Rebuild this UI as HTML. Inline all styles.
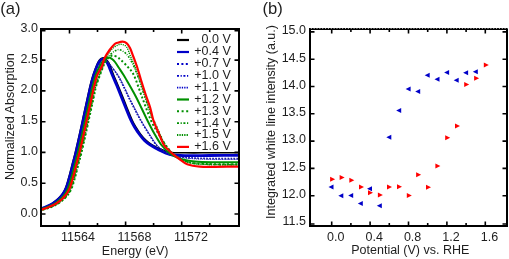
<!DOCTYPE html>
<html><head><meta charset="utf-8"><style>
html,body{margin:0;padding:0;background:#fff;width:509px;height:259px;overflow:hidden}
svg{display:block} #w{will-change:transform}
</style></head><body>
<div id="w"><svg width="509" height="259" viewBox="0 0 509 259"><rect width="509" height="259" fill="#fff"/><g clip-path="url(#clipL)"><path d="M36.30,209.80 C36.97,209.60 38.97,209.02 40.30,208.60 C41.63,208.18 42.80,207.88 44.30,207.30 C45.80,206.72 47.80,205.87 49.30,205.10 C50.80,204.33 51.82,203.77 53.30,202.70 C54.78,201.63 56.87,199.93 58.20,198.70 C59.53,197.47 60.33,196.53 61.30,195.30 C62.27,194.07 63.20,192.75 64.00,191.30 C64.80,189.85 65.42,188.48 66.10,186.60 C66.78,184.72 67.47,182.18 68.10,180.00 C68.73,177.82 69.20,176.17 69.90,173.50 C70.60,170.83 71.48,167.17 72.30,164.00 C73.12,160.83 74.05,157.50 74.80,154.50 C75.55,151.50 76.05,149.25 76.80,146.00 C77.55,142.75 78.52,138.50 79.30,135.00 C80.08,131.50 80.67,128.83 81.50,125.00 C82.33,121.17 83.28,116.67 84.30,112.00 C85.32,107.33 86.60,101.50 87.60,97.00 C88.60,92.50 89.38,88.67 90.30,85.00 C91.22,81.33 92.02,78.33 93.10,75.00 C94.18,71.67 95.73,67.50 96.80,65.00 C97.87,62.50 98.58,61.17 99.50,60.00 C100.42,58.83 101.33,58.23 102.30,58.00 C103.27,57.77 104.20,57.73 105.30,58.60 C106.40,59.47 107.52,60.47 108.90,63.20 C110.28,65.93 112.07,71.28 113.60,75.00 C115.13,78.72 116.60,81.92 118.10,85.50 C119.60,89.08 121.10,92.75 122.60,96.50 C124.10,100.25 125.52,104.08 127.10,108.00 C128.68,111.92 130.65,116.83 132.10,120.00 C133.55,123.17 134.35,124.58 135.80,127.00 C137.25,129.42 139.13,132.30 140.80,134.50 C142.47,136.70 144.10,138.58 145.80,140.20 C147.50,141.82 148.63,142.73 151.00,144.20 C153.37,145.67 156.90,147.67 160.00,149.00 C163.10,150.33 165.43,151.57 169.60,152.20 C173.77,152.83 178.27,152.70 185.00,152.80 C191.73,152.90 200.50,152.82 210.00,152.80 C219.50,152.78 236.67,152.72 242.00,152.70" fill="none" stroke="#000000" stroke-width="1.6" stroke-linejoin="round"/><path d="M37.00,209.80 C37.67,209.60 39.67,209.02 41.00,208.60 C42.33,208.18 43.50,207.88 45.00,207.30 C46.50,206.72 48.50,205.87 50.00,205.10 C51.50,204.33 52.52,203.77 54.00,202.70 C55.48,201.63 57.57,199.93 58.90,198.70 C60.23,197.47 61.03,196.53 62.00,195.30 C62.97,194.07 63.90,192.75 64.70,191.30 C65.50,189.85 66.12,188.48 66.80,186.60 C67.48,184.72 68.17,182.18 68.80,180.00 C69.43,177.82 69.90,176.17 70.60,173.50 C71.30,170.83 72.18,167.17 73.00,164.00 C73.82,160.83 74.75,157.50 75.50,154.50 C76.25,151.50 76.75,149.25 77.50,146.00 C78.25,142.75 79.22,138.50 80.00,135.00 C80.78,131.50 81.37,128.83 82.20,125.00 C83.03,121.17 83.98,116.67 85.00,112.00 C86.02,107.33 87.30,101.50 88.30,97.00 C89.30,92.50 90.08,88.67 91.00,85.00 C91.92,81.33 92.72,78.33 93.80,75.00 C94.88,71.67 96.47,67.37 97.50,65.00 C98.53,62.63 99.18,61.77 100.00,60.80 C100.82,59.83 101.60,59.37 102.40,59.20 C103.20,59.03 103.90,59.00 104.80,59.80 C105.70,60.60 106.55,61.47 107.80,64.00 C109.05,66.53 110.80,71.42 112.30,75.00 C113.80,78.58 115.32,81.92 116.80,85.50 C118.28,89.08 119.70,92.75 121.20,96.50 C122.70,100.25 124.20,104.08 125.80,108.00 C127.40,111.92 129.35,116.83 130.80,120.00 C132.25,123.17 133.05,124.58 134.50,127.00 C135.95,129.42 137.83,132.25 139.50,134.50 C141.17,136.75 142.75,138.78 144.50,140.50 C146.25,142.22 147.42,143.13 150.00,144.80 C152.58,146.47 156.73,148.92 160.00,150.50 C163.27,152.08 165.43,153.45 169.60,154.30 C173.77,155.15 178.27,155.40 185.00,155.60 C191.73,155.80 200.50,155.55 210.00,155.50 C219.50,155.45 236.67,155.33 242.00,155.30" fill="none" stroke="#0000c8" stroke-width="2.8" stroke-linejoin="round"/><path d="M38.00,209.80 C38.67,209.60 40.67,209.02 42.00,208.60 C43.33,208.18 44.50,207.88 46.00,207.30 C47.50,206.72 49.50,205.87 51.00,205.10 C52.50,204.33 53.52,203.77 55.00,202.70 C56.48,201.63 58.57,199.93 59.90,198.70 C61.23,197.47 62.03,196.53 63.00,195.30 C63.97,194.07 64.90,192.75 65.70,191.30 C66.50,189.85 67.12,188.48 67.80,186.60 C68.48,184.72 69.17,182.18 69.80,180.00 C70.43,177.82 70.90,176.17 71.60,173.50 C72.30,170.83 73.18,167.17 74.00,164.00 C74.82,160.83 75.75,157.50 76.50,154.50 C77.25,151.50 77.75,149.25 78.50,146.00 C79.25,142.75 80.22,138.50 81.00,135.00 C81.78,131.50 82.37,128.83 83.20,125.00 C84.03,121.17 84.98,116.67 86.00,112.00 C87.02,107.33 88.30,101.50 89.30,97.00 C90.30,92.50 91.08,88.67 92.00,85.00 C92.92,81.33 93.72,78.33 94.80,75.00 C95.88,71.67 97.37,67.33 98.50,65.00 C99.63,62.67 100.63,61.87 101.60,61.00 C102.57,60.13 103.40,59.80 104.30,59.80 C105.20,59.80 106.00,60.05 107.00,61.00 C108.00,61.95 108.57,63.17 110.30,65.50 C112.03,67.83 115.25,71.58 117.40,75.00 C119.55,78.42 121.33,82.25 123.20,86.00 C125.07,89.75 126.80,93.83 128.60,97.50 C130.40,101.17 132.05,104.25 134.00,108.00 C135.95,111.75 137.93,115.83 140.30,120.00 C142.67,124.17 145.53,128.83 148.20,133.00 C150.87,137.17 153.50,141.92 156.30,145.00 C159.10,148.08 161.88,149.70 165.00,151.50 C168.12,153.30 169.17,154.68 175.00,155.80 C180.83,156.92 188.83,157.75 200.00,158.20 C211.17,158.65 235.00,158.45 242.00,158.50" fill="none" stroke="#0000c8" stroke-width="1.5" stroke-dasharray="1.5 1.5" stroke-linejoin="round"/><path d="M38.30,209.80 C38.97,209.60 40.97,209.02 42.30,208.60 C43.63,208.18 44.80,207.88 46.30,207.30 C47.80,206.72 49.80,205.87 51.30,205.10 C52.80,204.33 53.82,203.77 55.30,202.70 C56.78,201.63 58.87,199.93 60.20,198.70 C61.53,197.47 62.33,196.53 63.30,195.30 C64.27,194.07 65.20,192.75 66.00,191.30 C66.80,189.85 67.42,188.48 68.10,186.60 C68.78,184.72 69.47,182.18 70.10,180.00 C70.73,177.82 71.20,176.17 71.90,173.50 C72.60,170.83 73.48,167.17 74.30,164.00 C75.12,160.83 76.05,157.50 76.80,154.50 C77.55,151.50 78.05,149.25 78.80,146.00 C79.55,142.75 80.52,138.50 81.30,135.00 C82.08,131.50 82.67,128.83 83.50,125.00 C84.33,121.17 85.28,116.67 86.30,112.00 C87.32,107.33 88.60,101.50 89.60,97.00 C90.60,92.50 91.38,88.67 92.30,85.00 C93.22,81.33 93.98,78.28 95.10,75.00 C96.22,71.72 97.83,67.58 99.00,65.30 C100.17,63.02 101.13,62.17 102.10,61.30 C103.07,60.43 103.90,60.10 104.80,60.10 C105.70,60.10 106.50,60.35 107.50,61.30 C108.50,62.25 109.07,63.47 110.80,65.80 C112.53,68.13 115.75,71.88 117.90,75.30 C120.05,78.72 121.83,82.55 123.70,86.30 C125.57,90.05 127.30,94.13 129.10,97.80 C130.90,101.47 132.55,104.55 134.50,108.30 C136.45,112.05 138.43,116.13 140.80,120.30 C143.17,124.47 146.03,129.13 148.70,133.30 C151.37,137.47 154.08,142.20 156.80,145.30 C159.52,148.40 161.97,150.08 165.00,151.90 C168.03,153.72 169.17,155.08 175.00,156.20 C180.83,157.32 188.83,158.15 200.00,158.60 C211.17,159.05 235.00,158.85 242.00,158.90" fill="none" stroke="#3a3a70" stroke-width="1.2" stroke-dasharray="1.2 1.8" stroke-linejoin="round"/><path d="M38.60,209.80 C39.27,209.60 41.27,209.02 42.60,208.60 C43.93,208.18 45.10,207.88 46.60,207.30 C48.10,206.72 50.10,205.87 51.60,205.10 C53.10,204.33 54.12,203.77 55.60,202.70 C57.08,201.63 59.17,199.93 60.50,198.70 C61.83,197.47 62.63,196.53 63.60,195.30 C64.57,194.07 65.50,192.75 66.30,191.30 C67.10,189.85 67.72,188.48 68.40,186.60 C69.08,184.72 69.77,182.18 70.40,180.00 C71.03,177.82 71.50,176.17 72.20,173.50 C72.90,170.83 73.78,167.17 74.60,164.00 C75.42,160.83 76.35,157.50 77.10,154.50 C77.85,151.50 78.35,149.25 79.10,146.00 C79.85,142.75 80.82,138.50 81.60,135.00 C82.38,131.50 82.97,128.83 83.80,125.00 C84.63,121.17 85.58,116.67 86.60,112.00 C87.62,107.33 88.90,101.50 89.90,97.00 C90.90,92.50 91.68,88.67 92.60,85.00 C93.52,81.33 94.25,78.23 95.40,75.00 C96.55,71.77 98.30,67.83 99.50,65.60 C100.70,63.37 101.63,62.47 102.60,61.60 C103.57,60.73 104.40,60.40 105.30,60.40 C106.20,60.40 107.00,60.65 108.00,61.60 C109.00,62.55 109.57,63.77 111.30,66.10 C113.03,68.43 116.25,72.18 118.40,75.60 C120.55,79.02 122.33,82.85 124.20,86.60 C126.07,90.35 127.80,94.43 129.60,98.10 C131.40,101.77 133.05,104.85 135.00,108.60 C136.95,112.35 138.93,116.43 141.30,120.60 C143.67,124.77 146.53,129.43 149.20,133.60 C151.87,137.77 154.67,142.47 157.30,145.60 C159.93,148.73 162.05,150.55 165.00,152.40 C167.95,154.25 169.17,155.58 175.00,156.70 C180.83,157.82 188.83,158.65 200.00,159.10 C211.17,159.55 235.00,159.35 242.00,159.40" fill="none" stroke="#0000c8" stroke-width="1.0" stroke-dasharray="1.0 1.0" stroke-linejoin="round"/><path d="M39.00,209.80 C39.67,209.60 41.67,209.02 43.00,208.60 C44.33,208.18 45.50,207.88 47.00,207.30 C48.50,206.72 50.50,205.87 52.00,205.10 C53.50,204.33 54.52,203.77 56.00,202.70 C57.48,201.63 59.57,199.93 60.90,198.70 C62.23,197.47 63.03,196.53 64.00,195.30 C64.97,194.07 65.90,192.75 66.70,191.30 C67.50,189.85 68.12,188.48 68.80,186.60 C69.48,184.72 70.17,182.18 70.80,180.00 C71.43,177.82 71.90,176.17 72.60,173.50 C73.30,170.83 74.18,167.17 75.00,164.00 C75.82,160.83 76.75,157.50 77.50,154.50 C78.25,151.50 78.75,149.25 79.50,146.00 C80.25,142.75 81.22,138.50 82.00,135.00 C82.78,131.50 83.37,128.83 84.20,125.00 C85.03,121.17 85.98,116.67 87.00,112.00 C88.02,107.33 89.30,101.50 90.30,97.00 C91.30,92.50 92.08,88.67 93.00,85.00 C93.92,81.33 94.55,78.33 95.80,75.00 C97.05,71.67 99.05,67.58 100.50,65.00 C101.95,62.42 103.12,60.73 104.50,59.50 C105.88,58.27 107.55,57.68 108.80,57.60 C110.05,57.52 110.97,58.27 112.00,59.00 C113.03,59.73 113.83,60.50 115.00,62.00 C116.17,63.50 117.57,65.83 119.00,68.00 C120.43,70.17 122.30,72.92 123.60,75.00 C124.90,77.08 124.68,76.75 126.80,80.50 C128.92,84.25 132.90,90.92 136.30,97.50 C139.70,104.08 144.25,114.08 147.20,120.00 C150.15,125.92 151.63,128.83 154.00,133.00 C156.37,137.17 158.73,141.58 161.40,145.00 C164.07,148.42 166.98,151.23 170.00,153.50 C173.02,155.77 175.33,157.28 179.50,158.60 C183.67,159.92 189.08,160.80 195.00,161.40 C200.92,162.00 207.17,162.05 215.00,162.20 C222.83,162.35 237.50,162.28 242.00,162.30" fill="none" stroke="#009000" stroke-width="2.0" stroke-linejoin="round"/><path d="M42.50,209.80 C43.17,209.60 45.17,209.02 46.50,208.60 C47.83,208.18 49.00,207.88 50.50,207.30 C52.00,206.72 54.00,205.87 55.50,205.10 C57.00,204.33 58.02,203.77 59.50,202.70 C60.98,201.63 63.07,199.93 64.40,198.70 C65.73,197.47 66.53,196.53 67.50,195.30 C68.47,194.07 69.40,192.75 70.20,191.30 C71.00,189.85 71.62,188.48 72.30,186.60 C72.98,184.72 73.67,182.18 74.30,180.00 C74.93,177.82 75.40,176.17 76.10,173.50 C76.80,170.83 77.68,167.17 78.50,164.00 C79.32,160.83 80.25,157.50 81.00,154.50 C81.75,151.50 82.25,149.25 83.00,146.00 C83.75,142.75 84.72,138.50 85.50,135.00 C86.28,131.50 86.87,128.83 87.70,125.00 C88.53,121.17 89.48,116.67 90.50,112.00 C91.52,107.33 92.80,101.50 93.80,97.00 C94.80,92.50 94.97,90.00 96.50,85.00 C98.03,80.00 101.42,71.00 103.00,67.00 C104.58,63.00 105.00,62.63 106.00,61.00 C107.00,59.37 107.95,58.10 109.00,57.20 C110.05,56.30 111.05,55.68 112.30,55.60 C113.55,55.52 115.05,55.97 116.50,56.70 C117.95,57.43 119.08,58.25 121.00,60.00 C122.92,61.75 125.83,64.62 128.00,67.20 C130.17,69.78 131.63,70.45 134.00,75.50 C136.37,80.55 139.40,90.08 142.20,97.50 C145.00,104.92 148.17,114.08 150.80,120.00 C153.43,125.92 155.55,128.83 158.00,133.00 C160.45,137.17 162.67,141.28 165.50,145.00 C168.33,148.72 170.92,152.42 175.00,155.30 C179.08,158.18 184.17,160.83 190.00,162.30 C195.83,163.77 201.33,163.77 210.00,164.10 C218.67,164.43 236.67,164.27 242.00,164.30" fill="none" stroke="#009000" stroke-width="2.0" stroke-dasharray="2.0 2.2" stroke-linejoin="round"/><path d="M42.00,209.80 C42.67,209.60 44.67,209.02 46.00,208.60 C47.33,208.18 48.50,207.88 50.00,207.30 C51.50,206.72 53.50,205.87 55.00,205.10 C56.50,204.33 57.52,203.77 59.00,202.70 C60.48,201.63 62.57,199.93 63.90,198.70 C65.23,197.47 66.03,196.53 67.00,195.30 C67.97,194.07 68.90,192.75 69.70,191.30 C70.50,189.85 71.12,188.48 71.80,186.60 C72.48,184.72 73.17,182.18 73.80,180.00 C74.43,177.82 74.90,176.17 75.60,173.50 C76.30,170.83 77.18,167.17 78.00,164.00 C78.82,160.83 79.75,157.50 80.50,154.50 C81.25,151.50 81.75,149.25 82.50,146.00 C83.25,142.75 84.22,138.50 85.00,135.00 C85.78,131.50 86.37,128.83 87.20,125.00 C88.03,121.17 88.98,116.67 90.00,112.00 C91.02,107.33 92.30,101.50 93.30,97.00 C94.30,92.50 94.38,90.17 96.00,85.00 C97.62,79.83 101.17,70.50 103.00,66.00 C104.83,61.50 105.58,60.08 107.00,58.00 C108.42,55.92 110.08,54.73 111.50,53.50 C112.92,52.27 114.18,51.25 115.50,50.60 C116.82,49.95 117.93,49.33 119.40,49.60 C120.87,49.87 122.83,51.10 124.30,52.20 C125.77,53.30 126.75,54.15 128.20,56.20 C129.65,58.25 131.32,60.93 133.00,64.50 C134.68,68.07 136.38,72.35 138.30,77.60 C140.22,82.85 142.38,89.77 144.50,96.00 C146.62,102.23 149.32,110.67 151.00,115.00 C152.68,119.33 153.18,119.00 154.60,122.00 C156.02,125.00 157.68,129.17 159.50,133.00 C161.32,136.83 162.92,141.23 165.50,145.00 C168.08,148.77 170.92,152.67 175.00,155.60 C179.08,158.53 184.17,161.13 190.00,162.60 C195.83,164.07 201.33,164.07 210.00,164.40 C218.67,164.73 236.67,164.57 242.00,164.60" fill="none" stroke="#009000" stroke-width="1.6" stroke-dasharray="1.8 1.4 0.8 1.4" stroke-linejoin="round"/><path d="M41.60,209.80 C42.27,209.60 44.27,209.02 45.60,208.60 C46.93,208.18 48.10,207.88 49.60,207.30 C51.10,206.72 53.10,205.87 54.60,205.10 C56.10,204.33 57.12,203.77 58.60,202.70 C60.08,201.63 62.17,199.93 63.50,198.70 C64.83,197.47 65.63,196.53 66.60,195.30 C67.57,194.07 68.50,192.75 69.30,191.30 C70.10,189.85 70.72,188.48 71.40,186.60 C72.08,184.72 72.77,182.18 73.40,180.00 C74.03,177.82 74.50,176.17 75.20,173.50 C75.90,170.83 76.78,167.17 77.60,164.00 C78.42,160.83 79.35,157.50 80.10,154.50 C80.85,151.50 81.35,149.25 82.10,146.00 C82.85,142.75 83.82,138.50 84.60,135.00 C85.38,131.50 85.97,128.83 86.80,125.00 C87.63,121.17 88.58,116.67 89.60,112.00 C90.62,107.33 91.90,101.50 92.90,97.00 C93.90,92.50 93.95,90.17 95.60,85.00 C97.25,79.83 101.07,70.50 102.80,66.00 C104.53,61.50 104.62,60.67 106.00,58.00 C107.38,55.33 109.22,52.12 111.10,50.00 C112.98,47.88 115.52,46.23 117.30,45.30 C119.08,44.37 120.25,44.12 121.80,44.40 C123.35,44.68 125.17,45.07 126.60,47.00 C128.03,48.93 129.03,52.75 130.40,56.00 C131.77,59.25 133.32,62.67 134.80,66.50 C136.28,70.33 137.60,74.08 139.30,79.00 C141.00,83.92 143.13,90.33 145.00,96.00 C146.87,101.67 149.00,108.67 150.50,113.00 C152.00,117.33 152.58,118.67 154.00,122.00 C155.42,125.33 157.17,129.17 159.00,133.00 C160.83,136.83 162.42,141.28 165.00,145.00 C167.58,148.72 170.33,152.33 174.50,155.30 C178.67,158.27 184.08,161.27 190.00,162.80 C195.92,164.33 201.33,164.18 210.00,164.50 C218.67,164.82 236.67,164.67 242.00,164.70" fill="none" stroke="#009000" stroke-width="1.4" stroke-dasharray="1.2 1.0" stroke-linejoin="round"/><path d="M40.50,209.80 C41.17,209.60 43.17,209.02 44.50,208.60 C45.83,208.18 47.00,207.88 48.50,207.30 C50.00,206.72 52.00,205.87 53.50,205.10 C55.00,204.33 56.02,203.77 57.50,202.70 C58.98,201.63 61.07,199.93 62.40,198.70 C63.73,197.47 64.53,196.53 65.50,195.30 C66.47,194.07 67.40,192.75 68.20,191.30 C69.00,189.85 69.62,188.48 70.30,186.60 C70.98,184.72 71.67,182.18 72.30,180.00 C72.93,177.82 73.40,176.17 74.10,173.50 C74.80,170.83 75.68,167.17 76.50,164.00 C77.32,160.83 78.25,157.50 79.00,154.50 C79.75,151.50 80.25,149.25 81.00,146.00 C81.75,142.75 82.72,138.50 83.50,135.00 C84.28,131.50 84.87,128.83 85.70,125.00 C86.53,121.17 87.48,116.67 88.50,112.00 C89.52,107.33 90.80,101.50 91.80,97.00 C92.80,92.50 93.58,88.67 94.50,85.00 C95.42,81.33 96.05,78.17 97.30,75.00 C98.55,71.83 100.82,68.75 102.00,66.00 C103.18,63.25 103.13,61.17 104.40,58.50 C105.67,55.83 107.92,52.38 109.60,50.00 C111.28,47.62 113.18,45.40 114.50,44.20 C115.82,43.00 116.17,43.22 117.50,42.80 C118.83,42.38 121.00,41.63 122.50,41.70 C124.00,41.77 125.25,42.15 126.50,43.20 C127.75,44.25 128.87,45.78 130.00,48.00 C131.13,50.22 132.07,53.17 133.30,56.50 C134.53,59.83 136.12,64.08 137.40,68.00 C138.68,71.92 139.60,75.50 141.00,80.00 C142.40,84.50 144.30,90.50 145.80,95.00 C147.30,99.50 148.75,102.83 150.00,107.00 C151.25,111.17 151.87,115.67 153.30,120.00 C154.73,124.33 156.83,128.83 158.60,133.00 C160.37,137.17 162.25,142.17 163.90,145.00 C165.55,147.83 166.88,148.38 168.50,150.00 C170.12,151.62 171.68,153.12 173.60,154.70 C175.52,156.28 177.72,157.92 180.00,159.50 C182.28,161.08 183.97,163.02 187.30,164.20 C190.63,165.38 195.38,166.17 200.00,166.60 C204.62,167.03 208.00,166.82 215.00,166.80 C222.00,166.78 237.50,166.55 242.00,166.50" fill="none" stroke="#ff0000" stroke-width="2.2" stroke-linejoin="round"/></g><defs><clipPath id="clipL"><rect x="41" y="29" width="197" height="196"/></clipPath></defs><rect x="41" y="29" width="198" height="197" fill="none" stroke="#000" stroke-width="2"/><path d="M69.5,226 V221.5 M69.5,29 V33.5 M125.6,226 V221.5 M125.6,29 V33.5 M181.7,226 V221.5 M181.7,29 V33.5 M97.5,226 V223 M97.5,29 V32 M153.6,226 V223 M153.6,29 V32 M209.7,226 V223 M209.7,29 V32 M41,214.0 H45.5 M239,214.0 H234.5 M41,183.2 H45.5 M239,183.2 H234.5 M41,152.4 H45.5 M239,152.4 H234.5 M41,121.7 H45.5 M239,121.7 H234.5 M41,90.9 H45.5 M239,90.9 H234.5 M41,60.1 H45.5 M239,60.1 H234.5 M41,30.6 H45.5 M239,30.6 H234.5" stroke="#000" stroke-width="1.6" fill="none"/><text x="38" y="216.5" text-anchor="end" font-family="Liberation Sans, sans-serif" font-size="12.5" fill="#1e1e1e">0.0</text><text x="38" y="185.7" text-anchor="end" font-family="Liberation Sans, sans-serif" font-size="12.5" fill="#1e1e1e">0.5</text><text x="38" y="154.9" text-anchor="end" font-family="Liberation Sans, sans-serif" font-size="12.5" fill="#1e1e1e">1.0</text><text x="38" y="124.2" text-anchor="end" font-family="Liberation Sans, sans-serif" font-size="12.5" fill="#1e1e1e">1.5</text><text x="38" y="93.4" text-anchor="end" font-family="Liberation Sans, sans-serif" font-size="12.5" fill="#1e1e1e">2.0</text><text x="38" y="62.6" text-anchor="end" font-family="Liberation Sans, sans-serif" font-size="12.5" fill="#1e1e1e">2.5</text><text x="38" y="31.8" text-anchor="end" font-family="Liberation Sans, sans-serif" font-size="12.5" fill="#1e1e1e">3.0</text><text x="78.0" y="240.6" text-anchor="middle" font-family="Liberation Sans, sans-serif" font-size="12.5" fill="#1e1e1e">11564</text><text x="134.5" y="240.6" text-anchor="middle" font-family="Liberation Sans, sans-serif" font-size="12.5" fill="#1e1e1e">11568</text><text x="191.0" y="240.6" text-anchor="middle" font-family="Liberation Sans, sans-serif" font-size="12.5" fill="#1e1e1e">11572</text><text x="135.2" y="254.5" text-anchor="middle" font-family="Liberation Sans, sans-serif" font-size="12.5" fill="#1e1e1e">Energy (eV)</text><text transform="translate(14.3,116.6) rotate(-90)" text-anchor="middle" font-family="Liberation Sans, sans-serif" font-size="12.6" fill="#1e1e1e">Normalized Absorption</text><text x="0.2" y="13.9" font-family="Liberation Sans, sans-serif" font-size="16.6" fill="#1e1e1e">(a)</text><path d="M177,40 H189" stroke="#000000" stroke-width="2.2"/><text x="230.8" y="43.4" text-anchor="end" font-family="Liberation Sans, sans-serif" font-size="12.5" fill="#1e1e1e">0.0 V</text><path d="M177,52 H189" stroke="#0000c8" stroke-width="2.2"/><text x="230.8" y="55.4" text-anchor="end" font-family="Liberation Sans, sans-serif" font-size="12.5" fill="#1e1e1e">+0.4 V</text><path d="M177,64 H189" stroke="#0000c8" stroke-width="2" stroke-dasharray="2 2.4"/><text x="230.8" y="67.4" text-anchor="end" font-family="Liberation Sans, sans-serif" font-size="12.5" fill="#1e1e1e">+0.7 V</text><path d="M177,75.8 H189" stroke="#0000c8" stroke-width="1.8" stroke-dasharray="2 1.6 1.2 1.6"/><text x="230.8" y="79.2" text-anchor="end" font-family="Liberation Sans, sans-serif" font-size="12.5" fill="#1e1e1e">+1.0 V</text><path d="M177,87.6 H189" stroke="#0000c8" stroke-width="1.8" stroke-dasharray="1.3 1.1"/><text x="230.8" y="91.0" text-anchor="end" font-family="Liberation Sans, sans-serif" font-size="12.5" fill="#1e1e1e">+1.1 V</text><path d="M177,99.5 H189" stroke="#009000" stroke-width="2.2"/><text x="230.8" y="102.9" text-anchor="end" font-family="Liberation Sans, sans-serif" font-size="12.5" fill="#1e1e1e">+1.2 V</text><path d="M177,111.3 H189" stroke="#009000" stroke-width="2" stroke-dasharray="2 2.6"/><text x="230.8" y="114.7" text-anchor="end" font-family="Liberation Sans, sans-serif" font-size="12.5" fill="#1e1e1e">+1.3 V</text><path d="M177,123.1 H189" stroke="#009000" stroke-width="1.8" stroke-dasharray="2 1.6 1.2 1.6"/><text x="230.8" y="126.5" text-anchor="end" font-family="Liberation Sans, sans-serif" font-size="12.5" fill="#1e1e1e">+1.4 V</text><path d="M177,135 H189" stroke="#009000" stroke-width="1.8" stroke-dasharray="1.3 1.1"/><text x="230.8" y="138.4" text-anchor="end" font-family="Liberation Sans, sans-serif" font-size="12.5" fill="#1e1e1e">+1.5 V</text><path d="M177,146.9 H189" stroke="#ff0000" stroke-width="2.2"/><text x="230.8" y="150.3" text-anchor="end" font-family="Liberation Sans, sans-serif" font-size="12.5" fill="#1e1e1e">+1.6 V</text><path d="M310,29.5 V227 M309,226 H508 M507,29 V227" stroke="#000" stroke-width="2" fill="none"/><rect x="309" y="29" width="199" height="1" fill="#000"/><rect x="309" y="28" width="199" height="1" fill="#b0b0b0"/><path d="M309,28.5 H508" stroke="#000" stroke-width="1" stroke-dasharray="1.8 1.05"/><path d="M331.7,226 V221.5 M331.7,29 V33.5 M370.1,226 V221.5 M370.1,29 V33.5 M408.5,226 V221.5 M408.5,29 V33.5 M446.9,226 V221.5 M446.9,29 V33.5 M485.3,226 V221.5 M485.3,29 V33.5 M350.9,226 V223 M350.9,29 V32 M389.3,226 V223 M389.3,29 V32 M427.7,226 V223 M427.7,29 V32 M466.1,226 V223 M466.1,29 V32 M310,224.0 H314.5 M507,224.0 H502.5 M310,195.7 H314.5 M507,195.7 H502.5 M310,168.4 H314.5 M507,168.4 H502.5 M310,141.1 H314.5 M507,141.1 H502.5 M310,113.8 H314.5 M507,113.8 H502.5 M310,86.5 H314.5 M507,86.5 H502.5 M310,59.2 H314.5 M507,59.2 H502.5 M310,31.9 H314.5 M507,31.9 H502.5" stroke="#000" stroke-width="1.6" fill="none"/><text x="306" y="225.3" text-anchor="end" font-family="Liberation Sans, sans-serif" font-size="12.5" fill="#1e1e1e">11.5</text><text x="306" y="198.0" text-anchor="end" font-family="Liberation Sans, sans-serif" font-size="12.5" fill="#1e1e1e">12.0</text><text x="306" y="170.7" text-anchor="end" font-family="Liberation Sans, sans-serif" font-size="12.5" fill="#1e1e1e">12.5</text><text x="306" y="143.4" text-anchor="end" font-family="Liberation Sans, sans-serif" font-size="12.5" fill="#1e1e1e">13.0</text><text x="306" y="116.1" text-anchor="end" font-family="Liberation Sans, sans-serif" font-size="12.5" fill="#1e1e1e">13.5</text><text x="306" y="88.8" text-anchor="end" font-family="Liberation Sans, sans-serif" font-size="12.5" fill="#1e1e1e">14.0</text><text x="306" y="61.5" text-anchor="end" font-family="Liberation Sans, sans-serif" font-size="12.5" fill="#1e1e1e">14.5</text><text x="306" y="34.2" text-anchor="end" font-family="Liberation Sans, sans-serif" font-size="12.5" fill="#1e1e1e">15.0</text><text x="335.8" y="240.6" text-anchor="middle" font-family="Liberation Sans, sans-serif" font-size="12.5" fill="#1e1e1e">0.0</text><text x="374.2" y="240.6" text-anchor="middle" font-family="Liberation Sans, sans-serif" font-size="12.5" fill="#1e1e1e">0.4</text><text x="412.6" y="240.6" text-anchor="middle" font-family="Liberation Sans, sans-serif" font-size="12.5" fill="#1e1e1e">0.8</text><text x="451.0" y="240.6" text-anchor="middle" font-family="Liberation Sans, sans-serif" font-size="12.5" fill="#1e1e1e">1.2</text><text x="489.4" y="240.6" text-anchor="middle" font-family="Liberation Sans, sans-serif" font-size="12.5" fill="#1e1e1e">1.6</text><text x="410.3" y="254.3" text-anchor="middle" font-family="Liberation Sans, sans-serif" font-size="12.5" fill="#1e1e1e">Potential (V) vs. RHE</text><text transform="translate(275,122) rotate(-90)" text-anchor="middle" font-family="Liberation Sans, sans-serif" font-size="12.5" fill="#1e1e1e">Integrated white line intensity (a.u.)</text><text x="262.4" y="13.9" font-family="Liberation Sans, sans-serif" font-size="16.6" fill="#1e1e1e">(b)</text><path d="M330.10,176.80 L335.10,179.30 L330.10,181.80 Z" fill="#ff0000"/><path d="M339.60,175.10 L344.60,177.60 L339.60,180.10 Z" fill="#ff0000"/><path d="M349.30,177.80 L354.30,180.30 L349.30,182.80 Z" fill="#ff0000"/><path d="M359.00,184.60 L364.00,187.10 L359.00,189.60 Z" fill="#ff0000"/><path d="M368.00,190.20 L373.00,192.70 L368.00,195.20 Z" fill="#ff0000"/><path d="M377.90,192.40 L382.90,194.90 L377.90,197.40 Z" fill="#ff0000"/><path d="M387.00,184.50 L392.00,187.00 L387.00,189.50 Z" fill="#ff0000"/><path d="M397.00,184.30 L402.00,186.80 L397.00,189.30 Z" fill="#ff0000"/><path d="M406.80,192.90 L411.80,195.40 L406.80,197.90 Z" fill="#ff0000"/><path d="M416.10,172.30 L421.10,174.80 L416.10,177.30 Z" fill="#ff0000"/><path d="M426.00,184.80 L431.00,187.30 L426.00,189.80 Z" fill="#ff0000"/><path d="M435.40,163.40 L440.40,165.90 L435.40,168.40 Z" fill="#ff0000"/><path d="M445.20,135.20 L450.20,137.70 L445.20,140.20 Z" fill="#ff0000"/><path d="M455.00,123.60 L460.00,126.10 L455.00,128.60 Z" fill="#ff0000"/><path d="M464.20,82.10 L469.20,84.60 L464.20,87.10 Z" fill="#ff0000"/><path d="M474.10,75.80 L479.10,78.30 L474.10,80.80 Z" fill="#ff0000"/><path d="M483.80,62.60 L488.80,65.10 L483.80,67.60 Z" fill="#ff0000"/><path d="M333.50,184.40 L328.50,186.90 L333.50,189.40 Z" fill="#0000c8"/><path d="M343.30,193.30 L338.30,195.80 L343.30,198.30 Z" fill="#0000c8"/><path d="M353.20,192.90 L348.20,195.40 L353.20,197.90 Z" fill="#0000c8"/><path d="M362.80,200.90 L357.80,203.40 L362.80,205.90 Z" fill="#0000c8"/><path d="M372.00,186.30 L367.00,188.80 L372.00,191.30 Z" fill="#0000c8"/><path d="M381.80,203.20 L376.80,205.70 L381.80,208.20 Z" fill="#0000c8"/><path d="M391.30,134.80 L386.30,137.30 L391.30,139.80 Z" fill="#0000c8"/><path d="M401.20,107.90 L396.20,110.40 L401.20,112.90 Z" fill="#0000c8"/><path d="M410.60,86.60 L405.60,89.10 L410.60,91.60 Z" fill="#0000c8"/><path d="M420.20,88.90 L415.20,91.40 L420.20,93.90 Z" fill="#0000c8"/><path d="M429.70,72.80 L424.70,75.30 L429.70,77.80 Z" fill="#0000c8"/><path d="M439.50,76.80 L434.50,79.30 L439.50,81.80 Z" fill="#0000c8"/><path d="M449.10,70.00 L444.10,72.50 L449.10,75.00 Z" fill="#0000c8"/><path d="M458.70,77.70 L453.70,80.20 L458.70,82.70 Z" fill="#0000c8"/><path d="M468.10,70.30 L463.10,72.80 L468.10,75.30 Z" fill="#0000c8"/><path d="M477.80,69.30 L472.80,71.80 L477.80,74.30 Z" fill="#0000c8"/></svg></div>
</body></html>
